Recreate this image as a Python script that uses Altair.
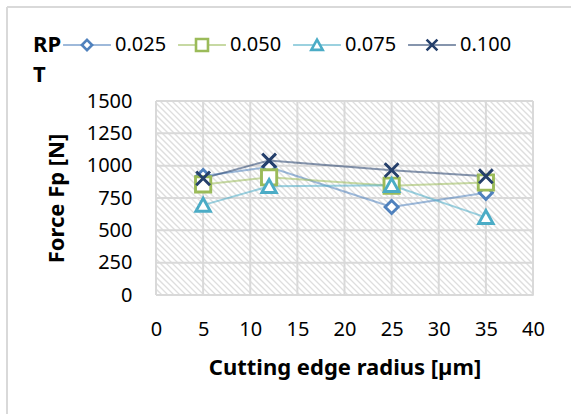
import altair as alt
import pandas as pd

# Cutting edge radius [µm] and measured passive force Fp [N] per RPT level
radius = [5, 12, 25, 35]
series_names = ["0.025", "0.050", "0.075", "0.100"]
force_0025 = [920, 990, 680, 790]
force_0050 = [855, 910, 845, 870]
force_0075 = [695, 840, 848, 600]
force_0100 = [902, 1040, 965, 918]

x_ticks = [0, 5, 10, 15, 20, 25, 30, 35, 40]
y_ticks = [0, 250, 500, 750, 1000, 1250, 1500]
legend_title = ["RP", "T"]

colors = ["#4F81BD", "#9BBB59", "#4BACC6", "#243F6B"]
marker_paths = [
    "M0,-0.9L0.9,0L0,0.9L-0.9,0Z",       # diamond
    "M-1.05,-1.05H1.05V1.05H-1.05Z",     # square
    "M0,-0.95L1,0.85H-1Z",               # triangle
    "M-0.95,-0.95L0.95,0.95M0.95,-0.95L-0.95,0.95",  # x
]

W, H = 377, 194
FONT = "Noto Sans"

rows = []
for name, vals in zip(series_names, [force_0025, force_0050, force_0075, force_0100]):
    for r, f in zip(radius, vals):
        rows.append({"radius": r, "force": f, "RPT": name})
df = pd.DataFrame(rows)

# diagonal hatching of the plot background
hatch = []
step = 6
for p0 in range(-H, W + step, step):
    hatch.append({"x": p0 * 40 / W, "x2": (p0 + H) * 40 / W, "y": 1500.0, "y2": 0.0})
hatch_df = pd.DataFrame(hatch)

xs = alt.Scale(domain=[0, 40], nice=False, zero=False)
ys = alt.Scale(domain=[0, 1500], nice=False)
cs = alt.Scale(domain=series_names, range=colors)
ss = alt.Scale(domain=series_names, range=marker_paths)

x_axis = alt.Axis(values=x_ticks, title="Cutting edge radius [µm]", format="d",
                  grid=False, domain=False, ticks=False, labelOverlap=False,
                  labelFlush=False, labelPadding=24, titlePadding=18)
y_axis = alt.Axis(values=y_ticks, title="Force Fp [N]", format="d",
                  grid=False, domain=False, ticks=False, labelOverlap=False,
                  labelFlush=False, labelPadding=24, titlePadding=18)

hatch_layer = alt.Chart(hatch_df).mark_rule(
    color="#dedede", strokeWidth=1.3, clip=True
).encode(
    x=alt.X("x:Q", scale=xs, axis=None),
    x2="x2:Q",
    y=alt.Y("y:Q", scale=ys, axis=y_axis),
    y2="y2:Q",
)

vgrid = alt.Chart(pd.DataFrame({"v": x_ticks})).mark_rule(
    color="#d9d9d9", strokeWidth=2
).encode(x=alt.X("v:Q", scale=xs, axis=None))

hgrid = alt.Chart(pd.DataFrame({"v": y_ticks})).mark_rule(
    color="#d9d9d9", strokeWidth=2
).encode(y=alt.Y("v:Q", scale=ys, axis=y_axis))

base = alt.Chart(df)

lines = base.mark_line(strokeWidth=2, opacity=0.55).encode(
    x=alt.X("radius:Q", scale=xs, axis=x_axis),
    y=alt.Y("force:Q", scale=ys, axis=y_axis),
    color=alt.Color("RPT:N", scale=cs, legend=None),
    detail="RPT:N",
)

points = base.mark_point(fill="white", fillOpacity=1, strokeWidth=2.9, opacity=1).encode(
    x=alt.X("radius:Q", scale=xs, axis=None),
    y=alt.Y("force:Q", scale=ys, axis=y_axis),
    color=alt.Color("RPT:N", scale=cs, legend=None),
    shape=alt.Shape("RPT:N", scale=ss, legend=None),
    size=alt.value(210),
)

# legend row: line sample, marker and label for each RPT level
leg_df = pd.DataFrame({"RPT": series_names, "idx": list(range(len(series_names)))})
lx = alt.X("idx:Q", scale=alt.Scale(domain=[0, 3], range=[87 - 156, 432 - 156]), axis=None)
ly = alt.value(45 - 101)
leg_base = alt.Chart(leg_df)
leg_lines = leg_base.mark_point(shape="M-4.2,0H4.2", strokeWidth=2, opacity=0.55, size=130).encode(
    x=lx, y=ly, color=alt.Color("RPT:N", scale=cs, legend=None))
leg_marks = leg_base.mark_point(fill="white", fillOpacity=1, strokeWidth=2.6, opacity=1, size=130).encode(
    x=lx, y=ly, color=alt.Color("RPT:N", scale=cs, legend=None),
    shape=alt.Shape("RPT:N", scale=ss, legend=None))
leg_text = leg_base.mark_text(align="left", baseline="middle", dx=28, fontSize=20,
                              font=FONT, color="#000000").encode(
    x=lx, y=ly, text="RPT:N")
leg_title = alt.Chart(alt.Data(values=[{}])).mark_text(
    align="left", baseline="alphabetic", fontSize=22, fontWeight="bold",
    font=FONT, color="#000000", lineHeight=30,
).encode(x=alt.value(33 - 156), y=alt.value(52 - 101), text=alt.value(legend_title))

frame_top = alt.Chart(alt.Data(values=[{}])).mark_rule(color="#d9d9d9", strokeWidth=2).encode(
    x=alt.value(-149), x2=alt.value(420), y=alt.value(-94))
frame_left = alt.Chart(alt.Data(values=[{}])).mark_rule(color="#d9d9d9", strokeWidth=2).encode(
    x=alt.value(-149), y=alt.value(-94), y2=alt.value(320))

chart = alt.layer(
    frame_top, frame_left, hatch_layer, vgrid, hgrid, lines, points,
    leg_lines, leg_marks, leg_text, leg_title,
).resolve_scale(
    x="independent"
).properties(
    width=W, height=H,
    autosize=alt.AutoSizeParams(type="none"),
    padding={"left": 156, "top": 101, "right": 38, "bottom": 119},
).configure_view(
    stroke=None, fill="white"
).configure(
    background="white",
).configure_axis(
    labelFont=FONT, titleFont=FONT, labelFontSize=20, titleFontSize=22,
    labelColor="#000000", titleColor="#000000", titleFontWeight="bold",
)

chart.save("out.html", embed_options={"renderer": "svg", "actions": False})
